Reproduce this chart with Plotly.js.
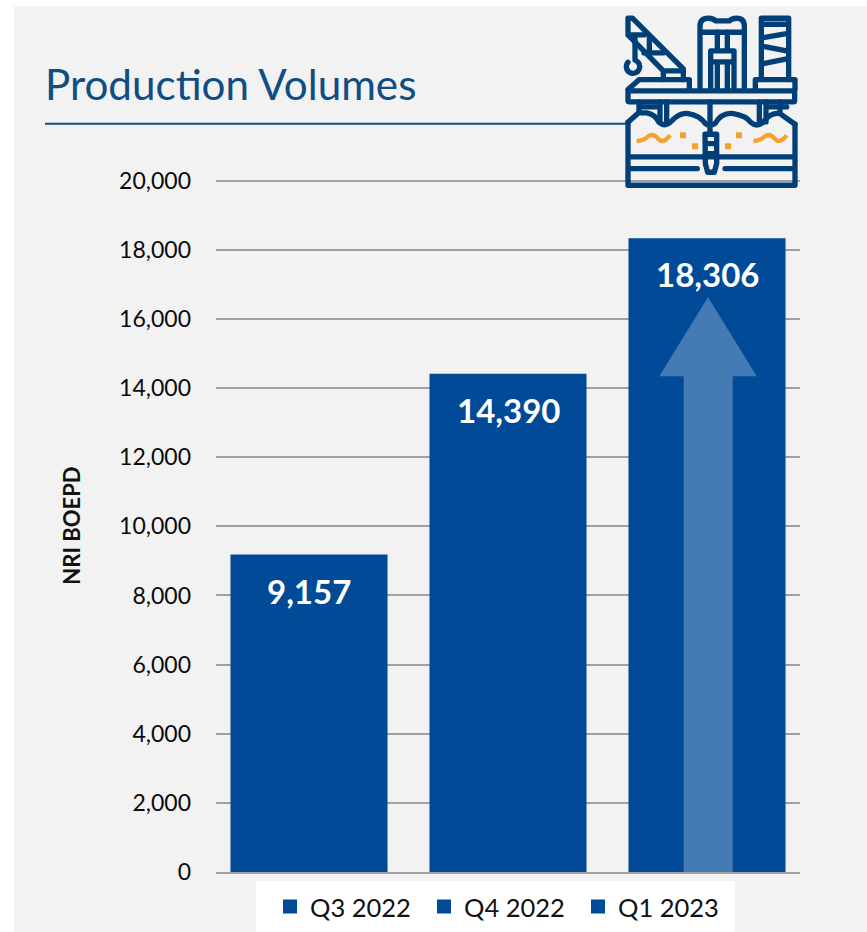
<!DOCTYPE html>
<html>
<head>
<meta charset="utf-8">
<script src="https://cdn.plot.ly/plotly-3.0.1.min.js"></script>
<style>html,body{margin:0;padding:0;background:#fff}#chart{width:867px;height:932px}</style>
</head>
<body>
<div id="chart"></div>
<script>
const quarters = ['Q3 2022', 'Q4 2022', 'Q1 2023'];
const volumes = [9157, 14390, 18306];
const yTicks = [0, 2000, 4000, 6000, 8000, 10000, 12000, 14000, 16000, 18000, 20000];
const chartTitle = 'Production Volumes';
const yAxisTitle = 'NRI BOEPD';

const BLUE = '#004a98';
const NAVY = '#003f77';
const ORANGE = '#f9a02c';
const FONT = 'Lato, "Open Sans", sans-serif';

// The axis runs slightly past the last tick so the top gridline is kept.
const Y_MAX = 20050;

// Plot area in page pixels; everything decorative is placed relative to it.
const W = 867, H = 932, L = 216, R = 800, B = 872, T = B - 691.5 * Y_MAX / 20000;
const px = x => (x - L) / (R - L);
const py = y => (B - y) / (B - T);

// Offshore platform pictogram, drawn on a 660x600 canvas.
const iconSvg = `<svg xmlns="http://www.w3.org/2000/svg" width="660" height="600" viewBox="0 0 660 600">
<g fill="none" stroke="${NAVY}" stroke-width="16" stroke-linejoin="round" stroke-linecap="round">
<path d="M84 54H98L250 206V238M84 54V104L190 212V238M84 104H132M148 104V158M132 158H190M190 212H250"/>
<path d="M105 112V180A20 20 0 1 1 84 186"/>
<path d="M300 265V78Q300 54 325 54Q340 54 347 62H388Q395 54 410 54Q433 54 433 78V265M300 96H433"/>
<path d="M352 96V150M382 96V150M332 265V152H402V265M332 185H402M352 190V265M382 190V265"/>
<path d="M484 238V54H566V238M490 72H560M490 112L560 100M490 138L560 152M490 190L560 176"/>
<path d="M84 268L118 238H268V268M466 268V238H585V268"/>
<rect x="84" y="272" width="500" height="33" rx="4"/>
<path d="M117 305V335M180 305V365M200 305V365M330 305V400M478 305V365M498 305V365M540 305V335M117 320H170M510 320H560"/>
<path d="M84 366L115 338H140Q165 342 177 366Q195 382 215 362Q240 336 265 340Q300 346 316 370Q330 380 345 370Q365 336 400 340Q438 346 452 366Q470 382 490 366Q510 336 540 340L585 372"/>
<path d="M84 366V555H585V372M84 470H585M84 505H292M375 505H585"/>
<path d="M315 402H350V490L343 516H323L316 490Z M315 430H350M315 460H350"/>
</g>
<g fill="none" stroke="${ORANGE}" stroke-width="13">
<path d="M110 422Q130 422 145 408Q160 398 175 416Q190 432 210 405"/>
<path d="M460 422Q480 422 495 408Q510 398 525 416Q540 432 560 405"/>
</g>
<g fill="${ORANGE}">
<rect x="240" y="396" width="18" height="18"/><rect x="276" y="429" width="18" height="18"/>
<rect x="375" y="429" width="18" height="18"/><rect x="408" y="396" width="18" height="18"/>
</g>
</svg>`;

// One trace per quarter so each gets its own legend entry.
// The outline thickens the legend swatch; the bar width allows for it.
const traces = quarters.map((q, i) => ({
  type: 'bar',
  name: q,
  x: [i],
  y: [volumes[i]],
  width: 0.779,
  marker: {color: BLUE, line: {width: 2, color: BLUE}},
  hoverinfo: 'skip'
}));

// Value labels sit a fixed distance under the top of each bar.
const valueLabels = quarters.map((q, i) => ({
  x: i, y: volumes[i], xref: 'x', yref: 'y',
  text: '<b>' + volumes[i].toLocaleString('en-US') + '</b>',
  showarrow: false, yanchor: 'top', yshift: -13,
  font: {family: FONT, size: 33, color: '#fff'}
}));

// Growth arrow rising through the latest bar, in axis units.
const arrowPath = 'M 1.883 0 L 1.883 14345 L 1.76 14345 L 2.005 16630 L 2.25 14345 L 2.129 14345 L 2.129 0 Z';

const layout = {
  width: W, height: H,
  margin: {l: L, r: W - R, t: T, b: H - B, pad: 0, autoexpand: false},
  paper_bgcolor: '#ffffff',
  plot_bgcolor: 'rgba(0,0,0,0)',
  font: {family: FONT, color: '#000'},
  showlegend: true,
  barmode: 'overlay',
  title: {
    text: chartTitle,
    font: {family: FONT, size: 42.2, color: '#0f4d84'},
    x: 45 / W, xanchor: 'left', xref: 'container',
    y: 1 - 100 / H, yanchor: 'bottom', yref: 'container', pad: {t: 0, b: 0, l: 0, r: 0}
  },
  xaxis: {
    range: [-0.4673, 2.4673], showticklabels: false, ticks: '', showgrid: false, zeroline: false,
    showline: true, linecolor: '#a0a0a0', linewidth: 2, fixedrange: true
  },
  yaxis: {
    range: [0, Y_MAX], tickvals: yTicks, tickformat: ',d',
    tickfont: {family: FONT, size: 23, color: '#0a0a0a'},
    ticks: '', ticklabelstandoff: 24,
    showgrid: true, gridcolor: '#a0a0a0', gridwidth: 1.5, zeroline: false, fixedrange: true,
    title: {text: '<b>' + yAxisTitle + '</b>', font: {family: FONT, size: 22, color: '#111'}, standoff: 32}
  },
  legend: {
    orientation: 'h', x: px(501), xanchor: 'center', y: py(907), yanchor: 'middle',
    bgcolor: 'rgba(0,0,0,0)', borderwidth: 0,
    font: {family: FONT, size: 25.5, color: '#111'},
    entrywidth: 109, entrywidthmode: 'pixels',
    itemclick: false, itemdoubleclick: false
  },
  shapes: [
    {type: 'rect', layer: 'below', xref: 'paper', yref: 'paper', x0: px(14), x1: px(867), y0: py(932), y1: py(6),
     fillcolor: '#f2f2f2', line: {width: 0}},
    {type: 'rect', layer: 'below', xref: 'paper', yref: 'paper', x0: px(256), x1: px(735), y0: py(932), y1: py(881),
     fillcolor: '#ffffff', line: {width: 0}},
    {type: 'line', layer: 'below', xref: 'paper', yref: 'paper', x0: px(45), x1: px(628), y0: py(123.5), y1: py(123.5),
     line: {color: '#0f4d84', width: 2}},
    {type: 'path', layer: 'above', xref: 'x', yref: 'y', path: arrowPath,
     fillcolor: 'rgba(255,255,255,0.27)', line: {width: 0}}
  ],
  images: [{
    source: 'data:image/svg+xml;charset=utf-8,' + encodeURIComponent(iconSvg),
    xref: 'paper', yref: 'paper', x: px(600), y: py(0), sizex: 220 / (R - L), sizey: 200 / (B - T),
    xanchor: 'left', yanchor: 'top', sizing: 'stretch', layer: 'above'
  }],
  annotations: valueLabels
};

Plotly.newPlot('chart', traces, layout, {displayModeBar: false, responsive: false});
</script>
</body>
</html>
